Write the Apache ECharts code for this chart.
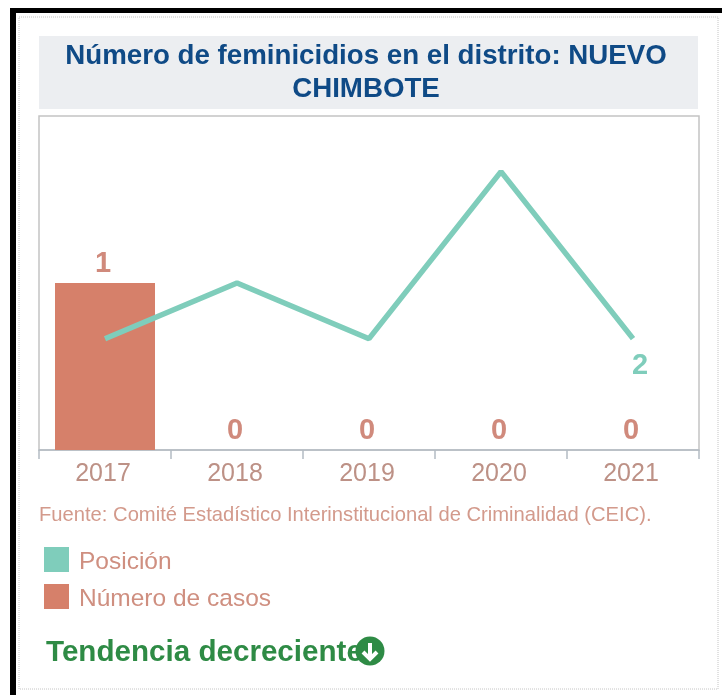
<!DOCTYPE html>
<html>
<head>
<meta charset="utf-8">
<style>
  html, body { margin: 0; padding: 0; background: #fff; }
  #myChart { width: 722px; height: 695px; }
</style>
<script src="https://cdn.jsdelivr.net/npm/echarts@6/dist/echarts.min.js"></script>
</head>
<body>
<div id="myChart"></div>
<script>
const categories = ["2017", "2018", "2019", "2020", "2021"];
const posicion = [2, 3, 2, 5, 2];
const casos = [1, 0, 0, 0, 0];

const fontFamily = "'Liberation Sans', Arial, sans-serif";
const teal = "#7fcdbb";
const salmon = "#d6806a";
const softText = "#bd9186";

let myChart = echarts.init(document.getElementById("myChart"));
myChart.setOption({
  animation: false,
  backgroundColor: "#fff",
  textStyle: { fontFamily: fontFamily },
  title: {
    text: "Número de feminicidios en el distrito: NUEVO\nCHIMBOTE",
    left: 361,
    top: 35,
    textAlign: "center",
    textStyle: {
      color: "#0f4a86",
      fontSize: 27.7,
      fontWeight: "bold",
      lineHeight: 33,
      fontFamily: fontFamily,
    },
  },
  grid: {
    left: 39,
    right: 23,
    top: 116,
    bottom: 245,
    show: true,
    borderColor: "#c4c4c4",
    borderWidth: 1.5,
  },
  legend: {
    orient: "vertical",
    left: 39,
    top: 542,
    itemWidth: 25,
    itemHeight: 25,
    itemGap: 9,
    itemStyle: { borderWidth: 0 },
    icon: "rect",
    data: ["Posición", "Número de casos"],
    selectedMode: false,
    formatter: function (name) {
      return "{t|" + name + "}";
    },
    textStyle: {
      padding: [0, 0, 0, 5],
      rich: {
        t: { color: "#cf8f80", fontSize: 24.5, padding: [6, 0, 0, 0], fontFamily: fontFamily },
      },
    },
  },
  xAxis: [
    {
      type: "category",
      data: categories,
      axisLine: { show: true, lineStyle: { color: "#b4bcc4", width: 1.5 } },
      axisTick: { show: true, length: 9, lineStyle: { color: "#b4bcc4", width: 1.5 } },
      axisLabel: { color: softText, fontSize: 25, margin: 12, padding: [0, 4, 0, 0], fontFamily: fontFamily },
    },
  ],
  yAxis: [
    { type: "value", min: 0, max: 2, show: false, splitLine: { show: false } },
    { type: "value", min: 0, max: 6, show: false, splitLine: { show: false } },
  ],
  series: [
    {
      name: "Número de casos",
      type: "bar",
      yAxisIndex: 0,
      data: casos,
      barWidth: 100,
      itemStyle: { color: salmon },
      label: {
        show: true,
        position: "top",
        distance: 5,
        offset: [-2, 0],
        color: "#d08a7c",
        fontSize: 29,
        fontWeight: "bold",
        fontFamily: fontFamily,
      },
    },
    {
      name: "Posición",
      type: "line",
      yAxisIndex: 1,
      data: posicion,
      symbol: "circle",
      symbolSize: 0,
      itemStyle: { color: teal },
      lineStyle: { color: teal, width: 5.5 },
      label: {
        show: true,
        position: "bottom",
        distance: 13,
        offset: [7, 0],
        color: teal,
        fontSize: 29,
        fontWeight: "bold",
        fontFamily: fontFamily,
        formatter: function (p) {
          return p.dataIndex === categories.length - 1 ? String(p.value) : "";
        },
      },
    },
  ],
  graphic: [
    // marco negro y borde punteado
    { type: "rect", z: -10, shape: { x: 10, y: 8, width: 712, height: 687 }, style: { fill: "#000" } },
    { type: "rect", z: -9, shape: { x: 16, y: 13, width: 706, height: 682 }, style: { fill: "#fff" } },
    {
      type: "rect",
      z: -8,
      shape: { x: 19, y: 17, width: 699, height: 672 },
      style: { fill: "#fff", stroke: "#c4c4c4", lineWidth: 1, lineDash: [1, 1] },
    },
    // fondo del titulo
    { type: "rect", z: -7, shape: { x: 39, y: 36, width: 659, height: 73 }, style: { fill: "#eceef1" } },
    {
      type: "text",
      left: 39,
      top: 505,
      style: { text: "Fuente: Comité Estadístico Interinstitucional de Criminalidad (CEIC).", fill: "#d39a8c", fontSize: 20.2, fontFamily: fontFamily },
    },
    {
      type: "text",
      left: 46,
      top: 638,
      style: { text: "Tendencia decreciente", fill: "#2e8b45", fontSize: 29.6, fontWeight: "bold", fontFamily: fontFamily },
    },
    { type: "circle", z: 10, shape: { cx: 370, cy: 651, r: 14.5 }, style: { fill: "#2e8b45" } },
    {
      type: "polyline",
      z: 11,
      shape: { points: [[370, 643], [370, 659]] },
      style: { stroke: "#fff", lineWidth: 4, fill: null },
    },
    {
      type: "polyline",
      z: 11,
      shape: { points: [[363, 652], [370, 659], [377, 652]] },
      style: { stroke: "#fff", lineWidth: 4, fill: null },
    },
  ],
});
</script>
</body>
</html>
